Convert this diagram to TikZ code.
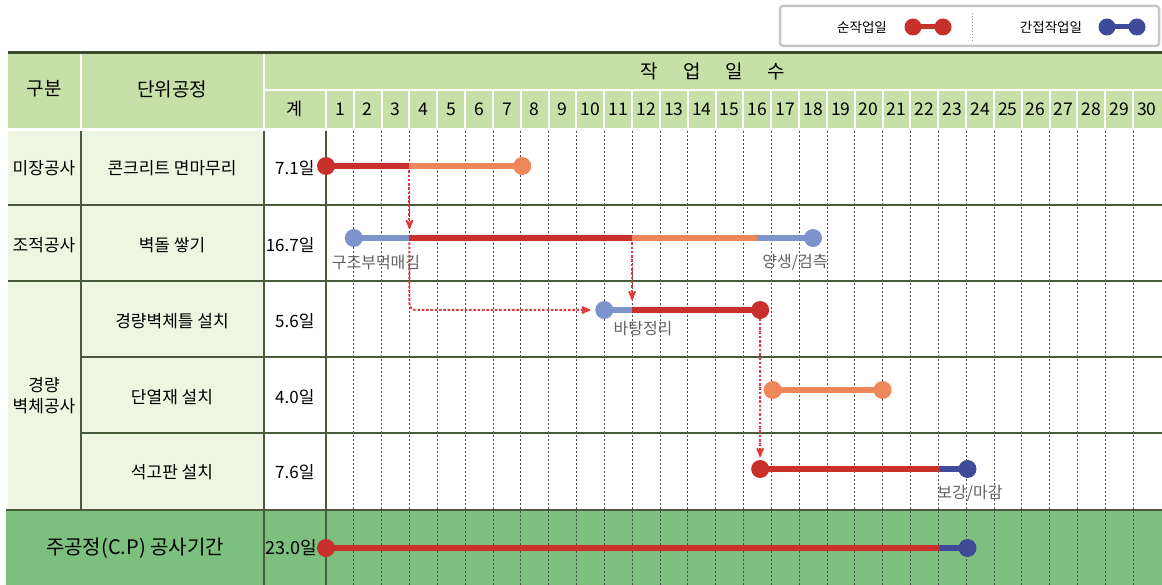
\documentclass[tikz,border=0pt]{standalone}
\usepackage{fontspec}
\setmainfont{Noto Sans CJK KR}
\usetikzlibrary{arrows}
\usepackage{xcolor}

\definecolor{hdrgreen}{HTML}{C6E0A8}
\definecolor{cellgreen}{HTML}{EEF5E1}
\definecolor{cpgreen}{HTML}{7CBF7E}
\definecolor{rulecol}{HTML}{4A5A3C}
\definecolor{topline}{HTML}{3B4A2E}
\definecolor{barred}{HTML}{C8302C}
\definecolor{barorange}{HTML}{EE875A}
\definecolor{barblue}{HTML}{7C93CB}
\definecolor{bardblue}{HTML}{3F4A98}
\definecolor{linkred}{HTML}{E2383A}

\tikzset{
  bar/.style={line width=6pt},
  dot/.style={circle, fill=#1, inner sep=0pt, minimum size=18pt},
  link/.style={linkred, line width=2pt, dash pattern=on 2.5pt off 1.8pt, ->, >=stealth'},
  hdrtxt/.style={font=\fontsize{19}{22}\selectfont},
  daytxt/.style={font=\fontsize{17.5}{20}\selectfont},
  celltxt/.style={font=\fontsize{17}{21}\selectfont, align=center},
  note/.style={text=black!62, font=\fontsize{16}{18}\selectfont},
  legtxt/.style={font=\fontsize{13.5}{15}\selectfont}
}

\begin{document}
\begin{tikzpicture}[x=1pt, y=-1pt]
\useasboundingbox (0,0) rectangle (1162,585);

% legend
\draw[black!22, line width=2.5pt, rounded corners=3pt, fill=white] (780,6) rectangle (1159,46);
\node[legtxt] (legA) at (862,27) {순작업일};
\coordinate (lg1a) at (913,27);
\coordinate (lg1b) at (943,27);
\draw[barred, line width=5pt] (lg1a) -- (lg1b);
\node[dot=barred, minimum size=17pt] at (lg1a) {};
\node[dot=barred, minimum size=17pt] at (lg1b) {};
\draw[black!40, line width=1pt, dash pattern=on 1.5pt off 1.5pt] (972,13) -- (972,41);
\node[legtxt] (legB) at (1051,27) {간접작업일};
\coordinate (lg2a) at (1107,27);
\coordinate (lg2b) at (1137,27);
\draw[bardblue, line width=5pt] (lg2a) -- (lg2b);
\node[dot=bardblue, minimum size=17pt] at (lg2a) {};
\node[dot=bardblue, minimum size=17pt] at (lg2b) {};

% header
\fill[hdrgreen] (8,53) rectangle (1162,128);
\draw[white, line width=2pt] (81,53)--(81,128) (264,53)--(264,128) (264,90)--(1162,90);
\foreach \k in {0,...,29}
  \draw[white, line width=2pt] ({326+27.83*\k},90)--({326+27.83*\k},128);
\draw[topline, line width=3pt] (8,53)--(1162,53);
\node[hdrtxt] (gubun) at (44,89) {구분};
\node[hdrtxt] (danwi) at (172,89) {단위공정};
\node[hdrtxt] (ilsu) at (713,71) {작\hspace{25pt}업\hspace{25pt}일\hspace{25pt}수};
\node[daytxt] (gye) at (295,109) {계};
\foreach \d in {1,...,30}
  \node[daytxt] (day\d) at ({326+27.83*(\d-0.5)},109) {\d};

% body
\fill[cellgreen] (8,131) rectangle (264,510);
\fill[cpgreen] (6,510) rectangle (1162,585);
\foreach \k in {1,...,29}
  \draw[black!70, line width=0.7pt, dash pattern=on 2pt off 2pt] ({326+27.83*\k},131)--({326+27.83*\k},585);
\draw[rulecol, line width=1.2pt] (81,131)--(81,510) (264,131)--(264,585) (326,131)--(326,585);
\draw[rulecol, line width=1.2pt] (8,205)--(1162,205) (8,281)--(1162,281)
  (81,357)--(1162,357) (81,433)--(1162,433);
\draw[rulecol, line width=1.5pt] (6,510)--(1162,510);

\node[celltxt] (g1) at (44,168) {미장공사};
\node[celltxt] (g2) at (44,245) {조적공사};
\node[celltxt] (g3) at (44,396) {경량\\벽체공사};
\node[celltxt] (p1) at (172,168) {콘크리트 면마무리};
\node[celltxt] (p2) at (172,245) {벽돌 쌓기};
\node[celltxt] (p3) at (172,321) {경량벽체틀 설치};
\node[celltxt] (p4) at (172,397) {단열재 설치};
\node[celltxt] (p5) at (172,472) {석고판 설치};
\node[celltxt, anchor=east] (v1) at (318,168) {7.1일};
\node[celltxt, anchor=east] (v2) at (318,245) {16.7일};
\node[celltxt, anchor=east] (v3) at (318,321) {5.6일};
\node[celltxt, anchor=east] (v4) at (318,397) {4.0일};
\node[celltxt, anchor=east] (v5) at (318,472) {7.6일};
\node[hdrtxt, font=\fontsize{20}{22}\selectfont] (cp) at (135,548) {주공정(C.P) 공사기간};
\node[celltxt, font=\fontsize{18}{20}\selectfont, anchor=east] (vcp) at (321,548) {23.0일};

% bars, in working days
\begin{scope}[xshift=326pt, x=27.83pt]
\coordinate (r1a) at (0,166);    \coordinate (r1b) at (3,166);    \coordinate (r1c) at (7.05,166);
\coordinate (r2a) at (1,238);    \coordinate (r2b) at (3,238);    \coordinate (r2c) at (11,238);
\coordinate (r2d) at (15.5,238); \coordinate (r2e) at (17.5,238);
\coordinate (r3a) at (10,310);   \coordinate (r3b) at (11,310);   \coordinate (r3c) at (15.6,310);
\coordinate (r4a) at (16.05,390);\coordinate (r4b) at (20,390);
\coordinate (r5a) at (15.6,469); \coordinate (r5b) at (22.05,469);\coordinate (r5c) at (23.05,469);
\coordinate (cpa) at (0,548);    \coordinate (cpb) at (22.05,548);\coordinate (cpc) at (23.05,548);
\coordinate (ar1) at (3,229);
\coordinate (ar2) at (9.5,310);
\coordinate (ar3) at (11,300);
\coordinate (ar4) at (15.6,457);

% links
\draw[link] (r1b) -- (ar1);
\draw[link, rounded corners=6pt] (r2b) |- (ar2);
\draw[link] (r2c) -- (ar3);
\draw[link] (r3c) -- (ar4);

\draw[bar, barred] (r1a) -- (r1b);
\draw[bar, barorange] (r1b) -- (r1c);
\draw[bar, barblue] (r2a) -- (r2b);
\draw[bar, barred] (r2b) -- (r2c);
\draw[bar, barorange] (r2c) -- (r2d);
\draw[bar, barblue] (r2d) -- (r2e);
\draw[bar, barblue] (r3a) -- (r3b);
\draw[bar, barred] (r3b) -- (r3c);
\draw[bar, barorange] (r4a) -- (r4b);
\draw[bar, barred] (r5a) -- (r5b);
\draw[bar, bardblue] (r5b) -- (r5c);
\draw[bar, barred] (cpa) -- (cpb);
\draw[bar, bardblue] (cpb) -- (cpc);

\node[dot=barred] (d1a) at (r1a) {};
\node[dot=barorange] (d1c) at (r1c) {};
\node[dot=barblue] (d2a) at (r2a) {};
\node[dot=barblue] (d2e) at (r2e) {};
\node[dot=barblue] (d3a) at (r3a) {};
\node[dot=barred] (d3c) at (r3c) {};
\node[dot=barorange] (d4a) at (r4a) {};
\node[dot=barorange] (d4b) at (r4b) {};
\node[dot=barred] (d5a) at (r5a) {};
\node[dot=bardblue] (d5c) at (r5c) {};
\node[dot=barred] (dcpa) at (cpa) {};
\node[dot=bardblue] (dcpc) at (cpc) {};
\end{scope}

\node[note] (n1) at (376,263) {구조부먹매김};
\node[note] (n2) at (795,262) {양생/검측};
\node[note] (n3) at (643,329) {바탕정리};
\node[note] (n4) at (970,493) {보강/마감};
\end{tikzpicture}
\end{document}
